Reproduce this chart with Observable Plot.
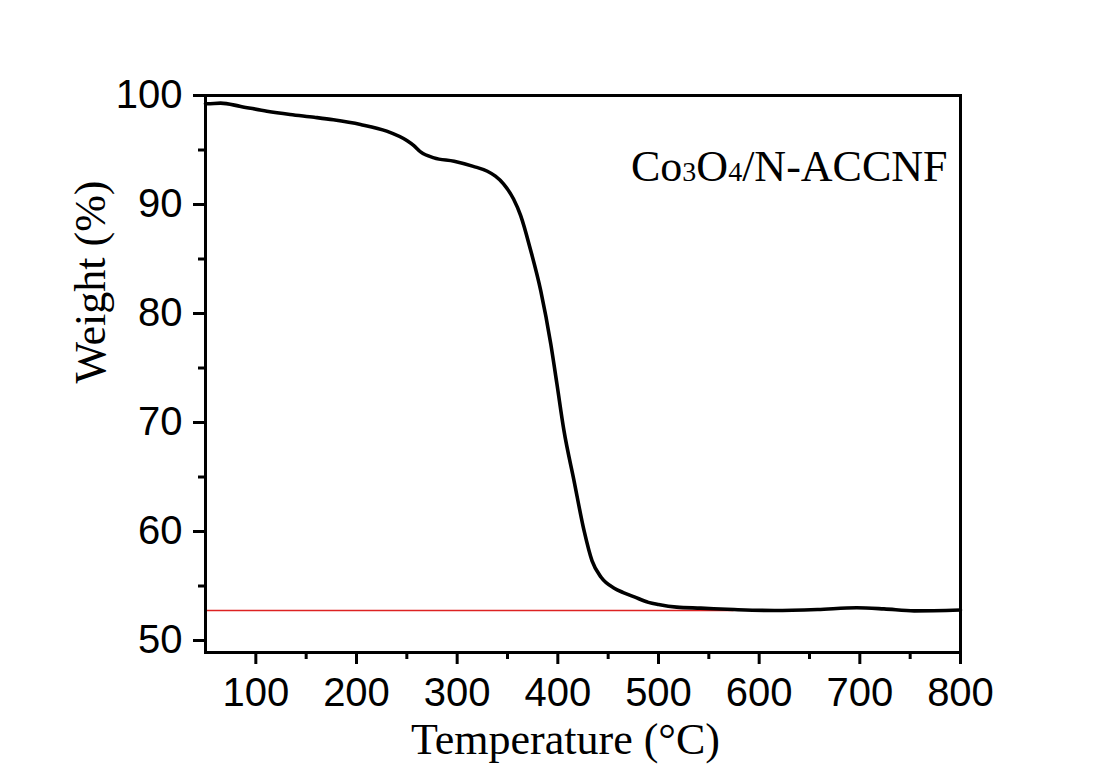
<!DOCTYPE html>
<html><head><meta charset="utf-8">
<script src="https://cdn.jsdelivr.net/npm/d3@7"></script>
<script src="https://cdn.jsdelivr.net/npm/@observablehq/plot@0.6"></script>
<style>html,body{margin:0;padding:0;background:#fff}svg{display:block}</style>
</head><body><div id="chart"></div>
<script>
const temperature = [50, 52, 65, 85, 111, 134, 158, 177, 204, 230, 250, 257, 264, 277, 297, 316, 330, 338, 346, 356, 363, 373, 383, 393, 399, 406, 416, 426, 434, 443, 456, 465, 476, 490, 500, 518, 542, 575, 615, 658, 697, 724, 754, 800];
const weight = [99.25, 99.24, 99.3, 99.0, 98.56, 98.26, 98.0, 97.77, 97.34, 96.73, 95.87, 95.4, 94.8, 94.28, 93.97, 93.5, 93.05, 92.6, 91.9, 90.5, 89.0, 85.8, 82.1, 77.2, 73.6, 69.3, 64.7, 60.1, 57.3, 55.8, 54.8, 54.4, 54.0, 53.5, 53.3, 53.06, 52.97, 52.84, 52.75, 52.84, 53.0, 52.9, 52.72, 52.8];
const xTicks = [100, 200, 300, 400, 500, 600, 700, 800];
const xMinor = [150, 250, 350, 450, 550, 650, 750];
const yTicks = [50, 60, 70, 80, 90, 100];
const yMinor = [55, 65, 75, 85, 95];
const residueLevel = [52.75];
const residueRange = [50, 575];
const sampleLabel = "Co3O4/N-ACCNF";
const xTitle = "Temperature (°C)";
const yTitle = "Weight (%)";

const data = temperature.map((t, i) => ({t, w: weight[i]}));
const sans = "'Liberation Sans', Arial, sans-serif";
const serif = "'Liberation Serif', 'Times New Roman', serif";

const W = 1100, H = 773, mL = 205, mR = 140, mT = 95, mB = 121;
const plotW = W - mL - mR, plotH = H - mT - mB;
const major = 12, minor = 7;

const chart = Plot.plot({
  width: W, height: H,
  marginLeft: mL, marginRight: mR, marginTop: mT, marginBottom: mB,
  style: {background: "#fff", color: "#000", fontFamily: sans},
  x: {domain: [50, 800], label: null},
  y: {domain: [48.9, 100], label: null},
  marks: [
    Plot.ruleY(residueLevel, {x1: residueRange[0], x2: residueRange[1], stroke: "#dd2222", strokeWidth: 1.6}),
    Plot.line(data, {x: "t", y: "w", stroke: "#000", strokeWidth: 3.6, curve: "monotone-x"}),
    // outward tick marks (bottom and left)
    Plot.ruleX(xTicks, {x: d => d, insetTop: plotH, insetBottom: -major, stroke: "#000", strokeWidth: 3}),
    Plot.ruleX(xMinor, {x: d => d, insetTop: plotH, insetBottom: -minor, stroke: "#000", strokeWidth: 3}),
    Plot.ruleY(yTicks, {y: d => d, insetRight: plotW, insetLeft: -major, stroke: "#000", strokeWidth: 3}),
    Plot.ruleY(yMinor, {y: d => d, insetRight: plotW, insetLeft: -minor, stroke: "#000", strokeWidth: 3}),
    Plot.frame({stroke: "#000", strokeWidth: 3}),
    Plot.axisX(xTicks, {tickSize: 0, tickPadding: major + 13, fontSize: 40, fontFamily: sans, label: null}),
    Plot.axisY(yTicks, {tickSize: 0, tickPadding: major + 11, fontSize: 40, fontFamily: sans, label: null}),
    Plot.text([xTitle], {text: d => d, frameAnchor: "bottom", dy: 101, dx: -17.5, fontSize: 44, fontFamily: serif, fill: "#000"}),
    Plot.text([yTitle], {text: d => d, frameAnchor: "left", rotate: -90, dx: -115, dy: 9.5, fontSize: 44, fontFamily: serif, fill: "#000"}),
    Plot.text([sampleLabel], {text: d => d, frameAnchor: "top-right", textAnchor: "end", dx: -13, dy: 54, fontSize: 44, fontFamily: serif, fill: "#000"})
  ]
});

d3.select(chart).selectAll("text")
  .filter(function () { return this.textContent === sampleLabel; })
  .each(function () {
    const el = d3.select(this);
    el.text(null);
    sampleLabel.split(/(\d)/).forEach(p => {
      if (!p) return;
      const ts = el.append("tspan").text(p);
      if (/^\d$/.test(p)) ts.attr("font-size", 28);
    });
  });

document.getElementById("chart").appendChild(chart);
</script>
</body></html>
